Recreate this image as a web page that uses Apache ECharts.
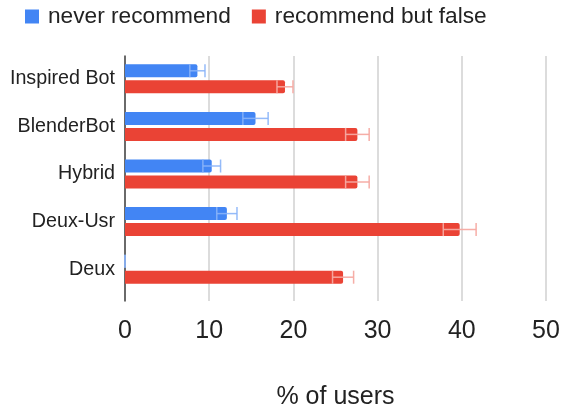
<!DOCTYPE html>
<html><head><meta charset="utf-8">
<script src="https://cdn.jsdelivr.net/npm/echarts@6/dist/echarts.min.js"></script>
<style>html,body{margin:0;padding:0;background:#fff}#c{width:562px;height:407px}</style>
</head><body><div id="c"></div>
<script>
const categories = ['Inspired Bot', 'BlenderBot', 'Hybrid', 'Deux-Usr', 'Deux'];
const neverVals = [8.6, 15.5, 10.3, 12.1, 0];
const neverErr = [0.9, 1.5, 1.05, 1.2, 0];
const falseVals = [19.0, 27.6, 27.6, 39.75, 25.9];
const falseErr = [0.95, 1.4, 1.4, 1.95, 1.25];
const xTicks = [0, 10, 20, 30, 40, 50];

const FONT = 'Liberation Sans, Arial, sans-serif';
const BAR_W = 13, GAP = 3;

function errSeries(name, vals, errs, color, offset) {
  return {
    type: 'custom', name: name + '_err', silent: true, z: 5,
    xAxisIndex: 1, yAxisIndex: 1,
    data: vals.map((v, i) => [v - errs[i], v + errs[i], i]),
    renderItem: function (params, api) {
      const lo = api.coord([api.value(0), api.value(2)]);
      const hi = api.coord([api.value(1), api.value(2)]);
      const y = lo[1] + offset;
      const h = 6.5;
      const st = { stroke: color, lineWidth: 1.5 };
      return { type: 'group', children: [
        { type: 'line', shape: { x1: lo[0], y1: y, x2: hi[0], y2: y }, style: st },
        { type: 'line', shape: { x1: lo[0], y1: y - h, x2: lo[0], y2: y + h }, style: st },
        { type: 'line', shape: { x1: hi[0], y1: y - h, x2: hi[0], y2: y + h }, style: st }
      ]};
    }
  };
}

const chart = echarts.init(document.getElementById('c'));
chart.setOption({
  animation: false,
  textStyle: { fontFamily: FONT },
  legend: {
    top: 0, left: 20, itemWidth: 14, itemHeight: 14, itemGap: 21,
    icon: 'rect',
    data: ['never recommend', 'recommend but false'],
    textStyle: { fontSize: 22.7, color: '#222', fontFamily: FONT, padding: [0, 0, 0, 4] }
  },
  grid: [
    { left: 125, right: 16, top: 56, bottom: 106, containLabel: false, outerBoundsMode: 'none' },
    { left: 125, right: 16, top: 55, bottom: 114, containLabel: false, outerBoundsMode: 'none' }
  ],
  xAxis: [{
    gridIndex: 0, type: 'value', min: 0, max: 50, interval: 10,
    name: '% of users', nameLocation: 'middle', nameGap: 84,
    nameTextStyle: { fontSize: 25, color: '#222', fontFamily: FONT },
    axisLine: { show: false }, axisTick: { show: false },
    axisLabel: { fontSize: 25, color: '#222', margin: 18, fontFamily: FONT,
      formatter: v => xTicks.includes(v) ? String(v) : '' },
    splitLine: { lineStyle: { color: '#d0d0d0', width: 1.5 } }
  }, {
    gridIndex: 1, type: 'value', min: 0, max: 50, interval: 10, show: false,
    splitLine: { show: false }
  }],
  yAxis: [{
    gridIndex: 0, type: 'value', min: 0, max: 1,
    axisLine: { show: true, lineStyle: { color: '#444', width: 1.5 } },
    axisTick: { show: false }, axisLabel: { show: false }, splitLine: { show: false }
  }, {
    gridIndex: 1, type: 'category', data: categories, inverse: true,
    axisLine: { show: false },
    axisTick: { show: false },
    axisLabel: { fontSize: 19.7, color: '#222', margin: 10, fontFamily: FONT }
  }],
  series: [
    { name: 'never recommend', type: 'bar', xAxisIndex: 1, yAxisIndex: 1, data: neverVals,
      barWidth: BAR_W, barGap: (GAP / BAR_W * 100) + '%',
      itemStyle: { color: '#4285f4', borderRadius: [0, 2, 2, 0] } },
    { name: 'recommend but false', type: 'bar', xAxisIndex: 1, yAxisIndex: 1, data: falseVals, barWidth: BAR_W,
      itemStyle: { color: '#ea4335', borderRadius: [0, 2, 2, 0] } },
    errSeries('never', neverVals, neverErr, 'rgba(138,180,248,0.9)', -(BAR_W + GAP) / 2),
    errSeries('false', falseVals, falseErr, 'rgba(246,170,162,0.95)', (BAR_W + GAP) / 2)
  ]
});
</script></body></html>
